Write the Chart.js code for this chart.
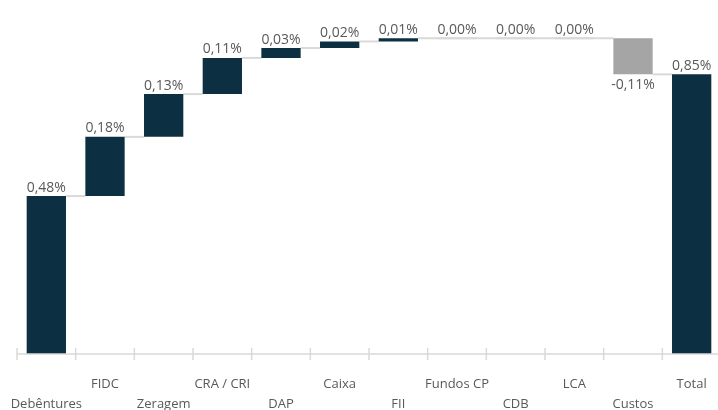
<!DOCTYPE html>
<html lang="pt-BR">
<head>
    <meta charset="UTF-8">
    <title>Atribuição de performance</title>
    <script src="https://cdn.jsdelivr.net/npm/chart.js"></script>
    <style>
        html, body {
            margin: 0;
            background: #fff;
            overflow: hidden;
        }

        /* plot runs a few pixels past the right edge, as in the original */
        .chart-container {
            width: 722px;
            height: 410px;
        }
    </style>
</head>
<body>
    <div class="chart-container">
        <canvas id="waterfallChart"></canvas>
    </div>

    <script>
        // data (% contribution)
        const categories = ['Debêntures', 'FIDC', 'Zeragem', 'CRA / CRI', 'DAP', 'Caixa', 'FII', 'Fundos CP', 'CDB', 'LCA', 'Custos', 'Total'];
        const values = [0.48, 0.18, 0.13, 0.11, 0.03, 0.02, 0.01, 0.00, 0.00, 0.00, -0.11, 0.85];
        const totalIndex = 11;

        const NAVY = '#0c3042';
        const GREY = '#a5a5a5';
        const TEXT = '#595959';
        const LINE = '#d9d9d9';
        const FONT = "'Open Sans', sans-serif";

        // floating ranges for the waterfall
        let running = 0;
        const ranges = [];
        const levels = [];
        values.forEach((v, i) => {
            if (i === totalIndex) {
                ranges.push([0, v]);
                levels.push(v);
            } else {
                ranges.push([running, running + v]);
                running += v;
                levels.push(running);
            }
        });

        // labels alternate between two rows
        const tickLabels = categories.map((c, i) => i % 2 === 1 ? [c] : ['', c]);

        const fmt = v => v.toFixed(2).replace('.', ',') + '%';

        const waterfallPlugin = {
            id: 'waterfall',
            beforeDatasetsDraw(chart) {
                const ctx = chart.ctx;
                const meta = chart.getDatasetMeta(0);
                const y = chart.scales.y;
                ctx.save();
                ctx.strokeStyle = LINE;
                ctx.lineWidth = 2;
                for (let i = 0; i < meta.data.length - 1; i++) {
                    const a = meta.data[i], b = meta.data[i + 1];
                    const py = y.getPixelForValue(levels[i]);
                    // zero bars: the connector runs straight through them
                    const x0 = values[i] === 0 ? a.x - a.width / 2 : a.x + a.width / 2;
                    const x1 = values[i + 1] === 0 ? b.x + b.width / 2 : b.x - b.width / 2;
                    ctx.beginPath();
                    ctx.moveTo(x0, py);
                    ctx.lineTo(x1, py);
                    ctx.stroke();
                }
                ctx.restore();
            },
            afterDatasetsDraw(chart) {
                const ctx = chart.ctx;
                const meta = chart.getDatasetMeta(0);
                const x = chart.scales.x;
                const area = chart.chartArea;
                const axisY = area.bottom;
                ctx.save();
                // axis line and tick marks
                ctx.strokeStyle = LINE;
                ctx.lineWidth = 1.5;
                ctx.beginPath();
                ctx.moveTo(area.left, axisY);
                ctx.lineTo(chart.width, axisY);
                ctx.stroke();
                const step = x.getPixelForValue(1) - x.getPixelForValue(0);
                for (let i = 0; i <= categories.length; i++) {
                    const px = x.getPixelForValue(i) - step / 2;
                    ctx.beginPath();
                    ctx.moveTo(px, axisY - 6);
                    ctx.lineTo(px, axisY + 6);
                    ctx.stroke();
                }
                // value labels
                ctx.fillStyle = TEXT;
                ctx.font = '14px ' + FONT;
                ctx.textAlign = 'center';
                ctx.textBaseline = 'alphabetic';
                meta.data.forEach((bar, i) => {
                    const v = values[i];
                    if (v < 0) {
                        ctx.fillText(fmt(v), bar.x, Math.max(bar.y, bar.base) + 15);
                    } else {
                        ctx.fillText(fmt(v), bar.x, Math.min(bar.y, bar.base) - 4.5);
                    }
                });
                ctx.restore();
            }
        };

        const ctx = document.getElementById('waterfallChart').getContext('2d');
        new Chart(ctx, {
            type: 'bar',
            data: {
                labels: tickLabels,
                datasets: [{
                    data: ranges,
                    backgroundColor: values.map(v => v < 0 ? GREY : NAVY),
                    borderWidth: 0,
                    borderSkipped: false,
                    categoryPercentage: 1,
                    barPercentage: 0.67
                }]
            },
            options: {
                responsive: true,
                maintainAspectRatio: false,
                animation: false,
                layout: {
                    padding: { top: 25, left: 17, right: 1, bottom: 0 }
                },
                plugins: {
                    legend: { display: false },
                    tooltip: { enabled: false }
                },
                scales: {
                    x: {
                        grid: { display: false, drawTicks: false },
                        border: { display: false },
                        ticks: {
                            color: TEXT,
                            padding: 20,
                            maxRotation: 0,
                            autoSkip: false,
                            font: { family: FONT, size: 13, lineHeight: 1.55 }
                        },
                        afterFit(scale) {
                            scale.paddingLeft = 0;
                            scale.paddingRight = 0;
                            scale.height = 56;
                        }
                    },
                    y: {
                        display: false,
                        min: 0,
                        max: 1.0
                    }
                }
            },
            plugins: [waterfallPlugin]
        });
    </script>
</body>
</html>
